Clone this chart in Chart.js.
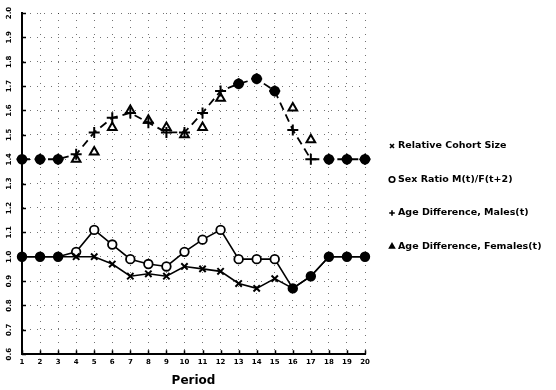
<!DOCTYPE html>
<html>
<head>
<meta charset="utf-8">
<script src="https://cdn.jsdelivr.net/npm/chart.js@4/dist/chart.umd.min.js"></script>
<style>
  html, body { margin: 0; padding: 0; background: #fff; }
  #wrap { width: 556px; height: 390px; position: relative; }
</style>
</head>
<body>
<div id="wrap"><canvas id="c"></canvas></div>
<script>
// Periods on the horizontal axis
const periods = [1, 2, 3, 4, 5, 6, 7, 8, 9, 10, 11, 12, 13, 14, 15, 16, 17, 18, 19, 20];
// Vertical axis tick values
const yTickValues = [0.6, 0.7, 0.8, 0.9, 1.0, 1.1, 1.2, 1.3, 1.4, 1.5, 1.6, 1.7, 1.8, 1.9, 2.0];

// Series
const cohortSize     = [1.00, 1.00, 1.00, 1.00, 1.00, 0.97, 0.92, 0.93, 0.92, 0.96, 0.95, 0.94, 0.89, 0.87, 0.91, 0.87, 0.92, 1.00, 1.00, 1.00];
const sexRatio       = [1.00, 1.00, 1.00, 1.02, 1.11, 1.05, 0.99, 0.97, 0.96, 1.02, 1.07, 1.11, 0.99, 0.99, 0.99, 0.87, 0.92, 1.00, 1.00, 1.00];
const ageDiffMales   = [1.40, 1.40, 1.40, 1.42, 1.51, 1.57, 1.59, 1.55, 1.51, 1.51, 1.59, 1.68, 1.71, 1.73, 1.68, 1.52, 1.40, 1.40, 1.40, 1.40];
const ageDiffFemales = [1.40, 1.40, 1.40, 1.40, 1.43, 1.53, 1.60, 1.56, 1.53, 1.50, 1.53, 1.65, 1.71, 1.73, 1.68, 1.61, 1.48, 1.40, 1.40, 1.40];

const seriesNames = [
  'Relative Cohort Size',
  'Sex Ratio M(t)/F(t+2)',
  'Age Difference, Males(t)',
  'Age Difference, Females(t)'
];

const FONT = '"DejaVu Sans", sans-serif';
const toPoints = arr => periods.map((p, i) => ({ x: p, y: arr[i] }));

// Markers where two series meet are drawn as solid dots
const sameAt = (a, b) => ctx => a[ctx.dataIndex] === b[ctx.dataIndex];

// Inward tick marks on both axes
const innerTicks = {
  id: 'innerTicks',
  afterDraw(chart) {
    const { ctx, scales: { x, y }, chartArea: a } = chart;
    ctx.save();
    ctx.strokeStyle = '#000';
    ctx.lineWidth = 1.5;
    ctx.beginPath();
    yTickValues.forEach(v => {
      const py = Math.round(y.getPixelForValue(v)) + 0.5;
      ctx.moveTo(a.left, py); ctx.lineTo(a.left + 4, py);
    });
    periods.forEach(p => {
      const px = Math.round(x.getPixelForValue(p)) + 0.5;
      ctx.moveTo(px, a.bottom); ctx.lineTo(px, a.bottom - 4);
    });
    ctx.stroke();
    ctx.restore();
  }
};

// Rotated labels for the vertical axis
const yLabels = {
  id: 'yLabels',
  afterDraw(chart) {
    const { ctx, scales: { y } } = chart;
    ctx.save();
    ctx.fillStyle = '#000';
    ctx.font = 'bold 7px ' + FONT;
    ctx.textAlign = 'center';
    ctx.textBaseline = 'middle';
    yTickValues.forEach(v => {
      const py = y.getPixelForValue(v);
      ctx.save();
      ctx.translate(9, py);
      ctx.rotate(-Math.PI / 2);
      ctx.fillText(v.toFixed(1), 0, 0);
      ctx.restore();
    });
    ctx.restore();
  }
};

// Legend list at the right
const sideLegend = {
  id: 'sideLegend',
  afterDraw(chart) {
    const { ctx } = chart;
    const x0 = 392, y0 = 146, step = 33.5;
    ctx.save();
    chart.data.datasets.forEach((ds, i) => {
      const yy = y0 + i * step;
      ctx.strokeStyle = '#000';
      ctx.fillStyle = ds.legendFill;
      ctx.lineWidth = 1.6;
      Chart.helpers.drawPoint(ctx, { pointStyle: ds.legendStyle, radius: 2.8, rotation: 0, borderWidth: 1.6 }, x0, yy);
      ctx.fillStyle = '#000';
      ctx.font = 'bold 9.5px ' + FONT;
      ctx.textAlign = 'left';
      ctx.textBaseline = 'middle';
      ctx.fillText(ds.label, x0 + 6, yy);
    });
    ctx.restore();
  }
};

new Chart(document.getElementById('c'), {
  type: 'line',
  data: {
    datasets: [
      {
        label: seriesNames[0],
        data: toPoints(cohortSize),
        borderColor: '#000',
        borderWidth: 1.6,
        pointStyle: 'crossRot',
        pointRadius: 4.5,
        pointBorderWidth: 2,
        pointBorderColor: '#000',
        pointBackgroundColor: '#000',
        legendStyle: 'crossRot',
        legendFill: '#000',
        tension: 0
      },
      {
        label: seriesNames[1],
        data: toPoints(sexRatio),
        borderColor: '#000',
        borderWidth: 1.6,
        pointStyle: 'circle',
        pointRadius: 4.3,
        pointBorderWidth: 1.8,
        pointBorderColor: '#000',
        pointBackgroundColor: ctx => sameAt(sexRatio, cohortSize)(ctx) ? '#000' : '#fff',
        legendStyle: 'circle',
        legendFill: '#fff',
        tension: 0
      },
      {
        label: seriesNames[2],
        data: toPoints(ageDiffMales),
        borderColor: '#000',
        borderWidth: 1.8,
        borderDash: [8, 5],
        pointStyle: 'cross',
        pointRadius: 5.5,
        pointBorderWidth: 2,
        pointBorderColor: '#000',
        pointBackgroundColor: '#000',
        legendStyle: 'cross',
        legendFill: '#000',
        tension: 0
      },
      {
        label: seriesNames[3],
        data: toPoints(ageDiffFemales),
        showLine: false,
        borderColor: '#000',
        pointStyle: ctx => sameAt(ageDiffFemales, ageDiffMales)(ctx) ? 'circle' : 'triangle',
        pointRadius: ctx => sameAt(ageDiffFemales, ageDiffMales)(ctx) ? 4.3 : 5,
        pointBorderWidth: 2,
        pointBorderColor: '#000',
        pointBackgroundColor: ctx => sameAt(ageDiffFemales, ageDiffMales)(ctx) ? '#000' : '#fff',
        legendStyle: 'triangle',
        legendFill: '#000'
      }
    ]
  },
  options: {
    responsive: true,
    maintainAspectRatio: false,
    animation: false,
    clip: false,
    layout: { padding: { left: 22, right: 191, top: 13, bottom: 2 } },
    plugins: {
      legend: { display: false },
      tooltip: { enabled: false }
    },
    scales: {
      x: {
        type: 'linear',
        min: 1,
        max: 20,
        ticks: {
          stepSize: 1,
          autoSkip: false,
          maxRotation: 0,
          padding: 4,
          color: '#000',
          font: { family: FONT, size: 7, weight: 'bold' },
          callback: v => String(v)
        },
        grid: { drawTicks: false, color: 'rgba(0,0,0,0.55)', lineWidth: 1 },
        border: { display: true, color: '#000', width: 2, dash: [1, 6] },
        title: {
          display: true,
          text: 'Period',
          color: '#000',
          font: { family: FONT, size: 12, weight: 'bold' },
          padding: { top: 3, bottom: 0 }
        }
      },
      y: {
        min: 0.6,
        max: 2.0,
        afterBuildTicks: axis => { axis.ticks = yTickValues.map(v => ({ value: v })); },
        ticks: { display: false },
        grid: { drawTicks: false, color: 'rgba(0,0,0,0.55)', lineWidth: 1 },
        border: { display: true, color: '#000', width: 2, dash: [1, 6] }
      }
    }
  },
  plugins: [innerTicks, yLabels, sideLegend]
});
</script>
</body>
</html>
